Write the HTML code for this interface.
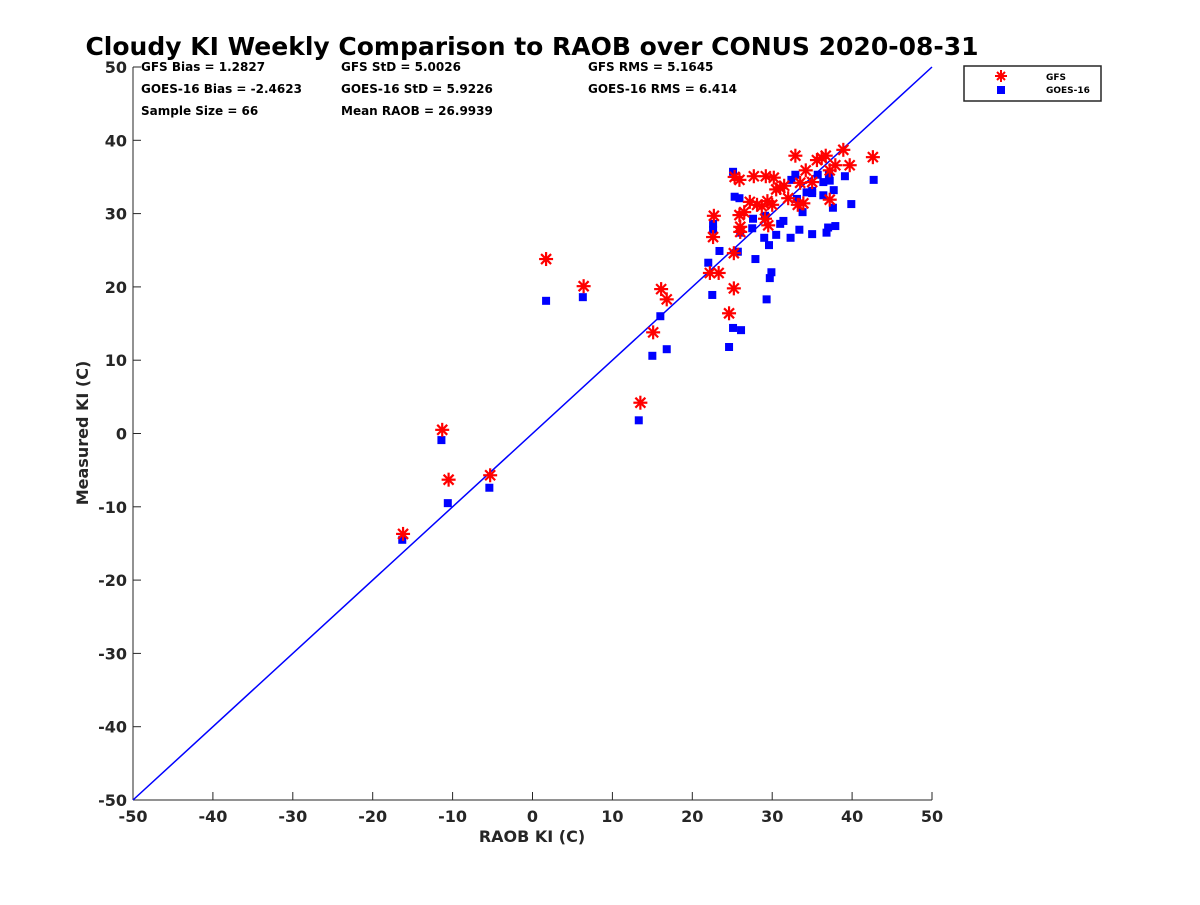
<!DOCTYPE html>
<html><head><meta charset="utf-8"><style>
body{margin:0;background:#fff;font-family:"Liberation Sans",sans-serif}
svg text{font-family:"DejaVu Sans","Liberation Sans",sans-serif;font-weight:bold}
</style></head><body>
<svg id="chart" width="1200" height="900">
<rect width="1200" height="900" fill="#fff"/>
<text x="532" y="55" text-anchor="middle" font-size="25" fill="#000">Cloudy KI Weekly Comparison to RAOB over CONUS 2020-08-31</text>
<g font-size="12" fill="#000">
<text x="141" y="71">GFS Bias = 1.2827</text>
<text x="141" y="93">GOES-16 Bias = -2.4623</text>
<text x="141" y="115">Sample Size = 66</text>
<text x="341" y="71">GFS StD = 5.0026</text>
<text x="341" y="93">GOES-16 StD = 5.9226</text>
<text x="341" y="115">Mean RAOB = 26.9939</text>
<text x="588" y="71">GFS RMS = 5.1645</text>
<text x="588" y="93">GOES-16 RMS = 6.414</text>
</g>
<g id="axes"></g>
<g id="marks"></g>
<text x="532" y="842" text-anchor="middle" font-size="16" fill="#262626">RAOB KI (C)</text>
<text transform="translate(88,433) rotate(-90)" text-anchor="middle" font-size="16" fill="#262626">Measured KI (C)</text>
<g>
<rect x="964" y="66" width="137" height="35" fill="#fff" stroke="#262626" stroke-width="1.5"/>
<g stroke="red" stroke-width="2"><line x1="1001" y1="70" x2="1001" y2="82"/><line x1="995" y1="76" x2="1007" y2="76"/><line x1="997" y1="72" x2="1005" y2="80"/><line x1="997" y1="80" x2="1005" y2="72"/></g>
<rect x="997" y="86" width="8" height="8" fill="blue"/>
<text x="1046" y="80" font-size="9">GFS</text>
<text x="1046" y="93" font-size="9">GOES-16</text>
</g>
</svg>
<script>
const xTicks=[-50,-40,-30,-20,-10,0,10,20,30,40,50];
const yTicks=[-50,-40,-30,-20,-10,0,10,20,30,40,50];
const gfsX=[-16.2,-11.3,-10.5,-5.3,1.7,6.4,13.5,15.1,16.1,16.8,22.2,22.6,22.7,23.3,24.6,25.2,25.2,25.3,25.9,25.9,26.0,26.5,27.2,27.7,28.1,28.7,29.2,29.4,29.5,30.0,30.2,30.5,31.0,31.5,32.9,33.5,33.2,33.9,34.2,35.6,36.2,36.7,37.2,37.2,37.9,38.9,39.7,42.6,35.0,32.0,29.1,26.0];
const gfsY=[-13.7,0.5,-6.3,-5.7,23.8,20.1,4.2,13.8,19.7,18.3,21.9,26.8,29.7,21.9,16.4,19.8,24.6,35.0,34.6,29.8,28.2,30.2,31.6,35.1,31.2,31.0,35.1,31.7,28.4,31.2,34.9,33.3,33.5,33.8,37.9,34.2,31.2,31.4,35.9,37.3,37.6,37.9,35.9,31.9,36.6,38.7,36.6,37.7,34.3,32.1,29.3,27.5];
const goesX=[-16.3,-11.4,-10.6,-5.4,1.7,6.3,13.3,15.0,16.0,16.8,22.0,22.5,22.6,22.6,23.4,24.6,25.1,26.1,25.1,25.3,25.9,25.7,26.0,27.6,27.9,27.5,29.0,29.1,29.3,29.6,29.7,29.9,30.5,31.0,31.4,32.3,32.4,32.9,33.1,33.4,33.8,34.3,35.0,35.0,35.7,36.4,36.4,36.8,37.0,37.1,37.2,37.6,37.7,37.9,39.1,39.9,42.7,35.0];
const goesY=[-14.5,-0.9,-9.5,-7.4,18.1,18.6,1.8,10.6,16.0,11.5,23.3,18.9,27.8,28.6,24.9,11.8,14.4,14.1,35.7,32.3,32.1,24.8,27.4,29.3,23.8,28.0,26.7,29.7,18.3,25.7,21.2,22.0,27.1,28.6,29.0,26.7,34.6,35.3,32.0,27.8,30.2,32.9,27.2,33.1,35.3,34.3,32.5,27.4,28.1,35.3,34.5,30.8,33.2,28.3,35.1,31.3,34.6,32.8];
const X0=133,X1=932,Y0=800,Y1=67;
const sx=v=>X0+(v+50)/100*(X1-X0);
const sy=v=>Y0-(v+50)/100*(Y0-Y1);
const NS="http://www.w3.org/2000/svg";
function mk(tag,attrs,parent){const e=document.createElementNS(NS,tag);for(const k in attrs)e.setAttribute(k,attrs[k]);parent.appendChild(e);return e;}
const axes=document.getElementById('axes'),marks=document.getElementById('marks');
let a=mk('line',{x1:X0,y1:Y1,x2:X0,y2:Y0,stroke:'#262626','stroke-width':1},axes);


a=mk('line',{x1:X0,y1:Y0,x2:X1,y2:Y0,stroke:'#262626','stroke-width':1},axes);


xTicks.forEach(t=>{mk('line',{x1:sx(t),y1:Y0,x2:sx(t),y2:Y0-8,stroke:'#262626'},axes);
const tx=mk('text',{x:sx(t),y:Y0+22,'text-anchor':'middle','font-size':16,fill:'#262626'},axes);tx.textContent=t;

});
yTicks.forEach(t=>{mk('line',{x1:X0,y1:sy(t),x2:X0+8,y2:sy(t),stroke:'#262626'},axes);
const tx=mk('text',{x:X0-6,y:sy(t)+6,'text-anchor':'end','font-size':16,fill:'#262626'},axes);tx.textContent=t;

});
const ref=mk('line',{x1:sx(-50),y1:sy(-50),x2:sx(50),y2:sy(50),stroke:'blue','stroke-width':1.5},marks);


goesX.forEach((v,i)=>{const r=mk('rect',{x:sx(v)-4,y:sy(goesY[i])-4,width:8,height:8,fill:'blue'},marks);

});
gfsX.forEach((v,i)=>{const cx=sx(v),cy=sy(gfsY[i]);const g=mk('g',{stroke:'red','stroke-width':2.2},marks);


mk('line',{x1:cx,y1:cy-7,x2:cx,y2:cy+7},g);mk('line',{x1:cx-7,y1:cy,x2:cx+7,y2:cy},g);
mk('line',{x1:cx-5,y1:cy-5,x2:cx+5,y2:cy+5},g);mk('line',{x1:cx-5,y1:cy+5,x2:cx+5,y2:cy-5},g);});
</script>
</body></html>
